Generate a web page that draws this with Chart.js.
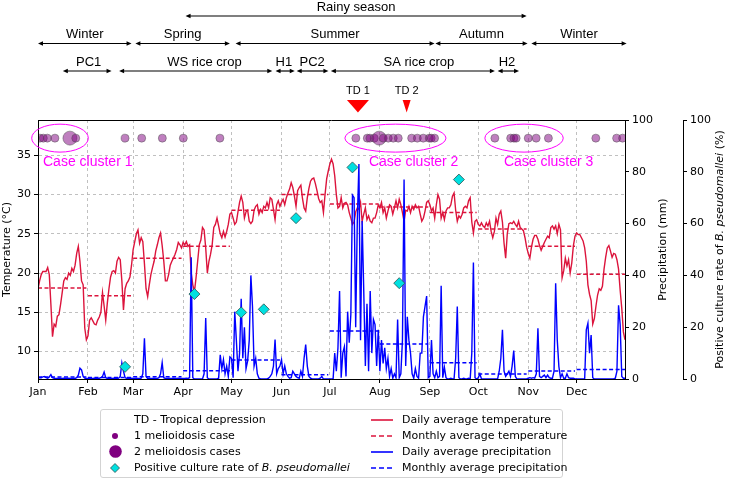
<!DOCTYPE html>
<html lang="en">
<head>
<meta charset="utf-8">
<title>Temperature, precipitation and melioidosis cases</title>
<script src="https://cdn.jsdelivr.net/npm/chart.js@4.4.1/dist/chart.umd.min.js"></script>
<style>
  html, body { margin: 0; padding: 0; background: #fff; }
  #contenedor { position: relative; width: 729px; height: 480px; }
  #grafico { position: absolute; left: 0; top: 0; }
  #leyenda { position: absolute; left: 100px; top: 409px; width: 463px; height: 69px; box-sizing: border-box;
             border: 1px solid #d3d3d3; border-radius: 3px; background: rgba(255,255,255,0.8);
             font-family: 'DejaVu Sans', sans-serif; font-size: 11px; color: #000; }
  #leyenda .item { position: absolute; height: 14px; line-height: 14px; white-space: nowrap; }
  #leyenda svg { position: absolute; }
</style>
</head>
<body>
<div id="contenedor">
  <canvas id="grafico" width="729" height="480"></canvas>
  <div id="leyenda">
    <div class="item" style="left:33px;top:3px">TD - Tropical depression</div>
    <svg style="left:9px;top:21px" width="10" height="10"><circle cx="5" cy="5" r="3" fill="#800080"/></svg>
    <div class="item" style="left:33px;top:19px">1 melioidosis case</div>
    <svg style="left:7px;top:34px" width="15" height="15"><circle cx="7.5" cy="7.5" r="6.3" fill="#800080"/></svg>
    <div class="item" style="left:33px;top:35px">2 melioidosis cases</div>
    <svg style="left:8px;top:52px" width="12" height="12"><polygon points="6,1.5 10.5,6 6,10.5 1.5,6" fill="#00e0e0" stroke="#2f4f4f" stroke-width="0.8"/></svg>
    <div class="item" style="left:33px;top:51px">Positive culture rate of <i>B. pseudomallei</i></div>
    <svg style="left:270px;top:8px" width="22" height="4"><line x1="0" y1="2" x2="22" y2="2" stroke="#dc143c" stroke-width="1.6"/></svg>
    <div class="item" style="left:301px;top:3px">Daily average temperature</div>
    <svg style="left:270px;top:24px" width="22" height="4"><line x1="0" y1="2" x2="22" y2="2" stroke="#dc143c" stroke-width="1.6" stroke-dasharray="5,3"/></svg>
    <div class="item" style="left:301px;top:19px">Monthly average temperature</div>
    <svg style="left:270px;top:40px" width="22" height="4"><line x1="0" y1="2" x2="22" y2="2" stroke="#0000ff" stroke-width="1.6"/></svg>
    <div class="item" style="left:301px;top:35px">Daily average precipitation</div>
    <svg style="left:270px;top:56px" width="22" height="4"><line x1="0" y1="2" x2="22" y2="2" stroke="#0000ff" stroke-width="1.6" stroke-dasharray="5,3"/></svg>
    <div class="item" style="left:301px;top:51px">Monthly average precipitation</div>
  </div>
</div>
<script>
// Meses (día del año en que empieza cada uno)
const meses = ['Jan', 'Feb', 'Mar', 'Apr', 'May', 'Jun', 'Jul', 'Aug', 'Sep', 'Oct', 'Nov', 'Dec'];
const inicioMes = [0, 31, 59, 90, 120, 151, 181, 212, 243, 273, 304, 334];
const marcasTemp = [10, 15, 20, 25, 30, 35];

// Temperatura media diaria (°C), 1 valor por día
const tempDiaria = [
  18, 19, 19.8, 20.2, 20.2, 20.2, 20.7, 19.8, 16, 11.9,
  13.5, 13.2, 14.5, 14.7, 16, 17.5, 19, 19.4, 19.2, 20,
  19.7, 20.6, 20.2, 21, 22.5, 23.4, 21.5, 19, 18.5, 13,
  11.5, 12, 14, 14.3, 13.9, 13.5, 13.4, 14, 14.4, 15,
  17.5, 15.8, 14, 16.2, 18, 19.5, 20.2, 20.3, 20, 21.5,
  22, 21.7, 19, 15.3, 18, 18.7, 19, 19.5, 21, 23,
  24, 25, 25.5, 23.8, 24.5, 24, 21.2, 18, 17, 18.5,
  19.8, 20.7, 21.5, 22.8, 23.6, 24.5, 25.1, 23.5, 21.5, 19,
  19, 19.8, 21, 21.5, 21.9, 22.4, 23, 23.9, 23.6, 23.2,
  23.9, 23.6, 24, 23.4, 23.6, 20, 18.5, 17.6, 19.4, 21.5,
  23.6, 24.2, 25.8, 25.5, 23.2, 20, 21.5, 22.4, 23.6, 25.8,
  26.2, 27, 26, 25, 24.5, 25.3, 24.6, 25.3, 26.2, 27.5,
  27.7, 27, 26.2, 26.5, 27.8, 29, 29.8, 29, 27, 27.8,
  28, 26.6, 26.3, 26.6, 28, 28.5, 28.7, 27.5, 28.1, 27.7,
  28.5, 28.3, 29, 28.3, 29.6, 29.4, 28.1, 26.8, 28.7, 29.2,
  28.5, 29, 29.4, 28.7, 29.6, 30.2, 30.7, 31.5, 30.9, 29.8,
  28.5, 30.5, 30.9, 31.2, 29.5, 28.3, 27.9, 29.6, 30.8, 31.7,
  32, 32.1, 31.4, 30.5, 29.5, 29, 29.2, 27.7, 30, 32,
  33, 33.9, 34.5, 33.9, 32.4, 30, 28.3, 28.5, 29.6, 28.3,
  28.9, 29, 28.7, 27.7, 27, 26.2, 26.5, 27.8, 28.3, 28.1,
  29, 26.6, 27.5, 28.3, 26.8, 27.3, 26.6, 26.4, 27, 27,
  27.7, 28.7, 28.3, 29, 27.7, 28.3, 27, 27.9, 28.7, 28.5,
  27.5, 28.3, 29.2, 28.3, 29.4, 28.7, 27.7, 26.6, 28, 27.9,
  28.5, 27.7, 28.5, 28.1, 28.7, 28.3, 28.5, 27.5, 26.6, 27,
  27.9, 29, 29.2, 28.7, 27.9, 28.3, 27, 28.7, 30, 29.4,
  27, 27.7, 26.8, 27.9, 28.3, 28.3, 28.7, 29.8, 30.2, 28,
  26.6, 27.3, 27, 27.5, 28.3, 28.5, 28.3, 29.2, 29.6, 26.5,
  25.1, 26.6, 26.8, 26.2, 26, 26.4, 26, 25.8, 26.4, 26,
  26.6, 25.3, 24.5, 25.3, 27, 26.2, 27.5, 27.9, 26.5, 23.8,
  21.9, 25, 26.3, 26.4, 26.3, 26.6, 26.2, 25.9, 26.6, 25.8,
  25.6, 25.4, 24.5, 23.3, 22.5, 21.9, 23.3, 24.3, 24.8, 24.8,
  24.3, 23.5, 22.9, 23.4, 23.9, 24.3, 24.7, 24.5, 25.8, 26,
  25.6, 26, 25, 26.2, 25.5, 19.4, 20.3, 21.9, 20.9, 21.7,
  20, 21.3, 23.5, 24.7, 25.1, 24.9, 24.9, 24.5, 24.1, 23.2,
  21.5, 18.5, 17.3, 16.5, 13.5, 14.2, 15.8, 17.2, 18, 17.8,
  18.3, 20.5, 22, 23.2, 23.5, 22.8, 22, 22.5, 22.4, 21.7,
  20.5, 17.8, 15.5, 12.5, 11.5
];

// Precipitación diaria (mm)
const lluviaDiaria = [
  0.3, 0.5, 0.5, 0.8, 1, 0.5, 0.3, 0.8, 1.7, 0.5,
  0.3, 0.2, 0.2, 0.3, 0.2, 0.2, 0.3, 0.2, 0.2, 0.3,
  0.2, 0.2, 0.3, 0.2, 0.5, 1.5, 4.2, 3.5, 1, 0.3,
  0.2, 0.2, 0.3, 0.2, 0.2, 0.3, 0.2, 0.2, 0.3, 0.5,
  1, 2.7, 0.5, 0.2, 0.3, 0.2, 0.2, 0.3, 0.2, 0.2,
  0.3, 1, 6.2, 3, 0.5, 0.3, 0.2, 0.2, 0.3, 0.2,
  0.2, 0.3, 0.2, 0.2, 0.3, 2, 15.7, 1, 0.2, 0.3,
  0.2, 0.2, 0.3, 0.2, 0.2, 0.5, 2, 6.3, 0.5, 0.2,
  0.2, 0.3, 0.2, 0.2, 0.3, 0.2, 0.2, 0.3, 0.2, 0.2,
  0.2, 0.2, 0.3, 0.2, 0.5, 47, 0.5, 0, 0, 0,
  0, 0, 0, 2, 23.5, 0.5, 0, 0, 0, 0,
  0, 0, 0.3, 9.3, 4, 7.5, 2, 5, 1, 8.5,
  8, 0.5, 26, 15, 3, 10, 31, 8, 20, 4,
  7, 15, 40, 28, 5, 8, 2, 0.3, 0, 0,
  0, 0, 0, 0.3, 1, 2, 5, 15.2, 2, 4,
  5, 7.5, 2, 5, 2, 1, 0.3, 0.5, 3, 2,
  1, 0.5, 0.3, 3, 1, 8, 13.3, 5, 1, 0.3,
  0, 0, 0, 0, 0, 0.3, 1, 0, 0, 0,
  0, 0, 0, 0, 10, 3, 12, 34, 0.5, 10,
  12.5, 1, 26, 14, 25, 71, 70, 20, 61, 83,
  15, 61, 34, 5, 29, 3, 34, 10, 23, 21,
  5, 19, 3, 15, 6, 12, 4, 8, 1, 4,
  0.3, 2, 0.5, 23, 0.5, 2, 15, 77, 5, 24,
  15, 10, 2, 0.3, 4, 1, 0.3, 10, 10, 24,
  28, 32, 0.5, 1, 15, 2, 0.5, 3, 0.5, 1,
  36, 0.5, 4.5, 0.5, 0, 0, 0.3, 0, 0, 8,
  28, 0.5, 0, 0, 0.3, 0, 0, 0.3, 0, 10,
  45, 0.5, 0, 0.5, 2, 0, 0, 0, 0, 0,
  0, 0, 0, 0, 0, 0, 3, 8, 19, 3,
  1, 2, 3, 1, 5, 11, 1, 0, 0, 0,
  0, 0, 0, 0, 0.3, 0.5, 0.3, 0.5, 0.3, 2,
  19.6, 1, 0.5, 1, 1.5, 0.5, 1.5, 0.5, 0.3, 0.3,
  3, 37, 15, 4.8, 0.5, 2, 0.3, 0.3, 2, 0.5,
  0.3, 0.3, 0.3, 0, 0, 0, 0, 0, 0, 0,
  19, 21.5, 10, 17, 0.5, 0, 0, 0, 0, 0,
  0, 0, 0, 0, 0, 0, 0, 0, 0.3, 3,
  28.5, 21, 1, 0.3, 0.3
];

// Promedios mensuales
const tempMensual = [18.1, 17.1, 21.9, 23.4, 28.0, 30.0, 28.8, 28.4, 27.7, 25.6, 23.4, 19.85];
const lluviaMensual = [0.8, 0.6, 0.9, 3.2, 7.3, 1.6, 18.5, 13.5, 6.3, 1.9, 3.1, 3.7];

// Tasa de cultivo positivo de B. pseudomallei (%)
const cultivoDias = [54, 97, 126, 140, 160, 195, 224, 261];
const cultivoTasa = [4.7, 32.8, 25.7, 26.9, 62.1, 81.7, 37, 77];

// Casos de melioidosis (día, número de casos)
const casosDias = [1.2, 3.3, 5.8, 10.5, 19.8, 23.4, 54, 64.3, 77.1, 90.1, 112.8,
  197.1, 204.2, 205.8, 208.5, 211.6, 214.1, 217.2, 220.3, 223.4, 231.7, 235.2, 238.9, 242.6, 243.8, 245.9,
  283.3, 293.1, 295.1, 296.5, 304, 308.9, 316.5, 345.9, 358.8, 362.5];
const casosNum = [1, 1, 1, 1, 2, 1, 1, 1, 1, 1, 1,
  1, 1, 1, 1, 2, 1, 1, 1, 1, 1, 1, 1, 1, 1, 1,
  1, 1, 1, 1, 1, 1, 1, 1, 1, 1];
const casosNivel = 93; // altura de la fila de casos en la escala 0-100

// Franjas de arriba (en días del año)
const lluviaNombre = ['Rainy season'];
const lluviaInicio = [91.5];
const lluviaFin = [303];
const estacionNombre = ['Winter', 'Spring', 'Summer', 'Autumn', 'Winter'];
const estacionInicio = [0, 60.4, 122.5, 246.4, 305.9];
const estacionFin = [58, 119, 245.9, 303.6, 365];
const etapaNombre = ['PC1', 'WS rice crop', 'H1', 'PC2', 'SA rice crop', 'H2'];
const etapaInicio = [15.4, 50.3, 147.3, 160.4, 181.6, 285];
const etapaFin = [45.6, 145.3, 159.2, 180.1, 283.3, 298.3];
const etapaTexto = [31.4, 103.2, 152.5, 170, 236.2, 290.8];
const tdNombre = ['TD 1', 'TD 2'];
const tdDia = [198.4, 228.6];

// Grupos de casos
const grupoNombre = ['Case cluster 1', 'Case cluster 2', 'Case cluster 3'];
const grupoInicio = [-3.9, 190.3, 277.1];
const grupoFin = [31.2, 253, 325.7];
const grupoEtiqueta = [3.1, 205.2, 288.9];

function segmentosMensuales(valores) {
  const puntos = [];
  valores.forEach(function (v, i) {
    const fin = i < 11 ? inicioMes[i + 1] - 1 : 364;
    puntos.push({ x: inicioMes[i], y: v }, { x: fin, y: v }, { x: fin + 0.5, y: null });
  });
  return puntos;
}

function flecha(ctx, x1, x2, y) {
  ctx.beginPath();
  ctx.moveTo(x1 + 3, y);
  ctx.lineTo(x2 - 3, y);
  ctx.stroke();
  [[x1, 1], [x2, -1]].forEach(function (p) {
    ctx.beginPath();
    ctx.moveTo(p[0], y);
    ctx.lineTo(p[0] + p[1] * 5, y - 2.3);
    ctx.lineTo(p[0] + p[1] * 5, y + 2.3);
    ctx.closePath();
    ctx.fill();
  });
}

function textoVertical(ctx, partes, cx, cy) {
  ctx.save();
  ctx.translate(cx, cy);
  ctx.rotate(-Math.PI / 2);
  let total = 0;
  partes.forEach(function (p) { ctx.font = p.f; p.w = ctx.measureText(p.t).width; total += p.w; });
  let x = -total / 2;
  ctx.textAlign = 'left';
  ctx.textBaseline = 'middle';
  ctx.fillStyle = '#000';
  partes.forEach(function (p) { ctx.font = p.f; ctx.fillText(p.t, x, 0); x += p.w; });
  ctx.restore();
}

const anotaciones = {
  id: 'anotaciones',
  afterDraw(chart) {
    const ctx = chart.ctx;
    const area = chart.chartArea;
    const x = chart.scales.x;
    const yp = chart.scales.y1;
    const px = d => x.getPixelForValue(d);
    ctx.save();

    // borde superior del recuadro
    ctx.strokeStyle = '#000';
    ctx.lineWidth = 1;
    ctx.beginPath();
    ctx.moveTo(area.left, area.top + 0.5);
    ctx.lineTo(area.right, area.top + 0.5);
    ctx.stroke();

    // franjas: estación lluviosa, estaciones, etapas del arroz
    ctx.fillStyle = '#000';
    ctx.lineWidth = 1.2;
    ctx.font = "13px 'Liberation Sans', Arial, sans-serif";
    ctx.textAlign = 'center';
    ctx.textBaseline = 'middle';
    lluviaNombre.forEach(function (n, i) {
      flecha(ctx, px(lluviaInicio[i]), px(lluviaFin[i]), 16);
      ctx.fillText(n, px((lluviaInicio[i] + lluviaFin[i]) / 2), 7);
    });
    estacionNombre.forEach(function (n, i) {
      flecha(ctx, px(estacionInicio[i]), px(estacionFin[i]), 43.5);
      ctx.fillText(n, px((estacionInicio[i] + estacionFin[i]) / 2), 34.5);
    });
    etapaNombre.forEach(function (n, i) {
      flecha(ctx, px(etapaInicio[i]), px(etapaFin[i]), 71);
      ctx.fillText(n, px(etapaTexto[i]), 62);
    });

    // depresiones tropicales
    ctx.font = "11px 'Liberation Sans', Arial, sans-serif";
    const anchoTd = [11, 4];
    tdNombre.forEach(function (n, i) {
      const cx = px(tdDia[i]);
      ctx.fillStyle = '#000';
      ctx.fillText(n, cx, 91);
      ctx.fillStyle = '#ff0000';
      ctx.beginPath();
      ctx.moveTo(cx - anchoTd[i], 100);
      ctx.lineTo(cx + anchoTd[i], 100);
      ctx.lineTo(cx, 112.5);
      ctx.closePath();
      ctx.fill();
    });

    // elipses de los grupos de casos
    ctx.strokeStyle = '#ff00ff';
    ctx.fillStyle = '#ff00ff';
    ctx.lineWidth = 1;
    ctx.font = "14px 'Liberation Sans', Arial, sans-serif";
    ctx.textAlign = 'left';
    const cy = yp.getPixelForValue(casosNivel);
    const ry = Math.abs(yp.getPixelForValue(casosNivel + 5.4) - cy);
    grupoNombre.forEach(function (n, i) {
      const x1 = px(grupoInicio[i]), x2 = px(grupoFin[i]);
      ctx.beginPath();
      ctx.ellipse((x1 + x2) / 2, cy, (x2 - x1) / 2, ry, 0, 0, Math.PI * 2);
      ctx.stroke();
      ctx.fillText(n, px(grupoEtiqueta[i]), yp.getPixelForValue(83.9));
    });

    // títulos de los ejes derechos
    const medio = (area.top + area.bottom) / 2;
    const normal = "11px 'DejaVu Sans', sans-serif";
    const cursiva = "italic 11px 'DejaVu Sans', sans-serif";
    textoVertical(ctx, [{ t: 'Precipitation (mm)', f: normal }], 663, medio);
    textoVertical(ctx, [
      { t: 'Positive culture rate of ', f: normal },
      { t: 'B. pseudomallei', f: cursiva },
      { t: ' (%)', f: normal }
    ], 720, medio);
    ctx.restore();
  }
};

Chart.defaults.font.family = "'DejaVu Sans', sans-serif";
Chart.defaults.font.size = 11;
Chart.defaults.color = '#000';

const ctx = document.getElementById('grafico').getContext('2d');
new Chart(ctx, {
  type: 'line',
  data: {
    datasets: [
      {
        label: 'Positive culture rate of B. pseudomallei',
        data: cultivoDias.map((d, i) => ({ x: d, y: cultivoTasa[i] })),
        yAxisID: 'y2',
        showLine: false,
        pointStyle: 'rectRot',
        pointRadius: 5.5,
        backgroundColor: '#00e0e0',
        borderColor: '#2f4f4f',
        pointBorderWidth: 0.8,
        order: 0
      },
      {
        label: 'Melioidosis cases',
        data: casosDias.map((d, i) => ({ x: d, y: casosNivel })),
        yAxisID: 'y1',
        showLine: false,
        pointRadius: casosNum.map(n => n === 2 ? 7 : 4),
        backgroundColor: 'rgba(128, 0, 128, 0.5)',
        borderColor: 'rgba(80, 80, 80, 0.6)',
        pointBorderWidth: 0.8,
        order: 1
      },
      {
        label: 'Monthly average precipitation',
        data: segmentosMensuales(lluviaMensual),
        yAxisID: 'y1',
        borderColor: '#0000ff',
        borderWidth: 1.5,
        borderDash: [4, 2.5],
        pointRadius: 0,
        spanGaps: false,
        order: 2
      },
      {
        label: 'Daily average precipitation',
        data: lluviaDiaria.map((v, i) => ({ x: i, y: v })),
        yAxisID: 'y1',
        borderColor: '#0000ff',
        borderWidth: 1.4,
        pointRadius: 0,
        order: 3
      },
      {
        label: 'Monthly average temperature',
        data: segmentosMensuales(tempMensual),
        yAxisID: 'y',
        borderColor: '#dc143c',
        borderWidth: 1.5,
        borderDash: [4, 2.5],
        pointRadius: 0,
        spanGaps: false,
        order: 4
      },
      {
        label: 'Daily average temperature',
        data: tempDiaria.map((v, i) => ({ x: i, y: v })),
        yAxisID: 'y',
        borderColor: '#dc143c',
        borderWidth: 1.4,
        pointRadius: 0,
        order: 5
      }
    ]
  },
  options: {
    responsive: false,
    animation: false,
    devicePixelRatio: 1,
    events: [],
    layout: { padding: { top: 120, left: 0, right: 0, bottom: 0 } },
    plugins: { legend: { display: false }, tooltip: { enabled: false } },
    scales: {
      x: {
        type: 'linear',
        min: 0,
        max: 364,
        afterBuildTicks: s => { s.ticks = inicioMes.map(v => ({ value: v })); },
        afterFit: s => { s.height = 101; s.paddingLeft = 0; s.paddingRight = 0; },
        ticks: { autoSkip: false, maxRotation: 0, padding: 3, callback: v => meses[inicioMes.indexOf(v)] },
        grid: {
          color: c => (c.tick && c.tick.value === 0) ? 'rgba(0,0,0,0)' : '#b0b0b0',
          lineWidth: 0.8, tickColor: '#000', tickLength: 4, tickWidth: 1
        },
        border: { color: '#000', width: 1, dash: [3, 3], z: 1 }
      },
      y: {
        position: 'left',
        min: 6.5,
        max: 39.5,
        afterBuildTicks: s => { s.ticks = marcasTemp.map(v => ({ value: v })); },
        afterFit: s => { s.width = 38; s.paddingTop = 0; s.paddingBottom = 0; },
        ticks: { padding: 3 },
        title: { display: true, text: 'Temperature (°C)', padding: { top: 1, bottom: 0 } },
        grid: { color: '#b0b0b0', lineWidth: 0.8, tickColor: '#000', tickLength: 4, tickWidth: 1 },
        border: { color: '#000', width: 1, dash: [3, 3], z: 1 }
      },
      y1: {
        position: 'right',
        weight: 0,
        min: 0,
        max: 100,
        afterFit: s => { s.width = 58; s.paddingTop = 0; s.paddingBottom = 0; },
        ticks: { stepSize: 20, padding: 3 },
        grid: { drawOnChartArea: false, tickColor: '#000', tickLength: 4, tickWidth: 1 },
        border: { color: '#000', width: 1, z: 1 }
      },
      y2: {
        position: 'right',
        weight: 1,
        min: 0,
        max: 100,
        afterFit: s => { s.width = 46; s.paddingTop = 0; s.paddingBottom = 0; },
        ticks: { stepSize: 20, padding: 3 },
        grid: { drawOnChartArea: false, tickColor: '#000', tickLength: 4, tickWidth: 1 },
        border: { color: '#000', width: 1, z: 1 }
      }
    }
  },
  plugins: [anotaciones]
});
</script>
</body>
</html>
